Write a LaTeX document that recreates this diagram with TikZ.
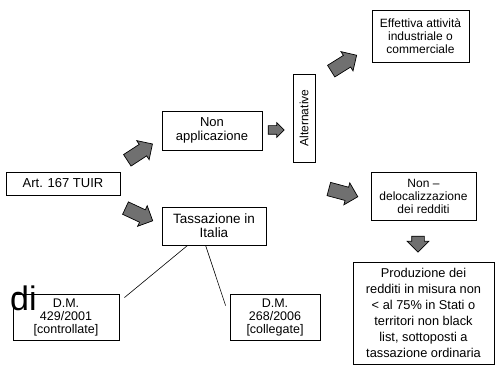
\documentclass[tikz,border=0pt]{standalone}
\usepackage{fontspec}
\setmainfont{Liberation Sans}
\usetikzlibrary{shapes.arrows}
\definecolor{arrgray}{RGB}{112,112,112}
\tikzset{
  box/.style={draw=black, line width=0.8pt, fill=white, align=center, inner sep=1pt,
    font=\fontsize{12}{13}\selectfont},
  barrow/.style={single arrow, draw=black, line width=0.7pt, fill=arrgray,
    single arrow head extend=4.5pt, inner sep=0pt, text width=0pt, text height=#1, text depth=#1},
  link/.style={draw=black, line width=0.6pt}
}
\begin{document}
\begin{tikzpicture}[x=1pt,y=-1pt]
\useasboundingbox (0,0) rectangle (499,369);
% boxes
\node[box, minimum width=114pt, minimum height=23pt, font=\fontsize{13}{14}\selectfont] (art) at (63,183.5) {Art. 167 TUIR};
\node[box, minimum width=100pt, minimum height=39pt, font=\fontsize{13}{14}\selectfont] (nonapp) at (212,130.5) {Non\\applicazione};
\node[box, minimum width=88pt, minimum height=22pt, rotate=90, font=\fontsize{12}{12}\selectfont] (alt) at (304,118) {Alternative};
\node[box, minimum width=97pt, minimum height=52pt] (eff) at (420.5,36) {Effettiva attività\\industriale o\\commerciale};
\node[box, minimum width=105pt, minimum height=48pt, font=\fontsize{12}{13}\selectfont] (deloc) at (423.5,196) {Non –\\delocalizzazione\\dei redditi};
\node[box, minimum width=141pt, minimum height=102pt, font=\fontsize{12.8}{16}\selectfont] (prod) at (423.5,313) {Produzione dei\\redditi in misura non\\< al 75\% in Stati o\\territori non black\\list, sottoposti a\\tassazione ordinaria};
\node[box, minimum width=104pt, minimum height=38pt, font=\fontsize{13.5}{14}\selectfont] (tass) at (214,226) {Tassazione in\\Italia};
\node[box, minimum width=106pt, minimum height=46pt, font=\fontsize{12.5}{13}\selectfont] (dm1) at (66,317) {D.M.\\429/2001\\{[controllate]}};
\node[box, minimum width=90pt, minimum height=46pt, font=\fontsize{12.5}{13}\selectfont] (dm2) at (275,317) {D.M.\\268/2006\\{[collegate]}};
\node[anchor=base west, inner sep=0pt, font=\fontsize{34}{34}\selectfont] (di) at (10,310) {di};
% links
\draw[link] ([xshift=26pt]tass.south west) -- ([xshift=5pt,yshift=-4pt]dm1.north east);
\draw[link] ([xshift=44pt]tass.south west) -- ([xshift=-4pt,yshift=-12pt]dm2.north west);
% block arrows
\node[barrow=6.5pt, minimum height=30pt, rotate=33] (a1) at (137,154) {};
\node[barrow=6.5pt, minimum height=30pt, rotate=-25] (a2) at (136,213) {};
\node[barrow=4pt, minimum height=16pt, single arrow head extend=3pt] (a3) at (274,130) {};
\node[barrow=6.5pt, minimum height=30pt, rotate=32] (a4) at (341,65) {};
\node[barrow=6.5pt, minimum height=30pt, rotate=-15] (a5) at (340,192) {};
\node[barrow=6pt, minimum height=16pt, rotate=-90] (a6) at (418,241) {};
\end{tikzpicture}
\end{document}
